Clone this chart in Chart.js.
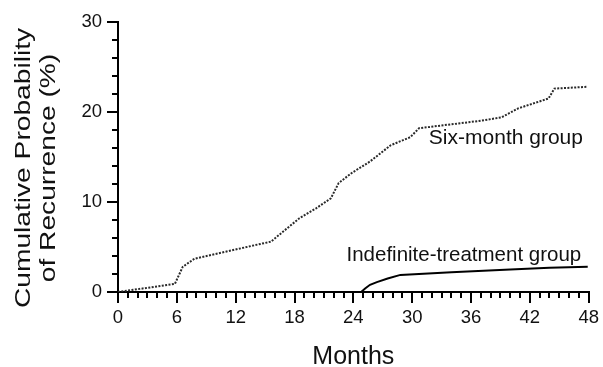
<!DOCTYPE html>
<html>
<head>
<meta charset="utf-8">
<script src="https://cdn.jsdelivr.net/npm/chart.js@4"></script>
<style>
  html, body { margin: 0; padding: 0; background: #fff; }
  #wrap { width: 603px; height: 367px; }
</style>
</head>
<body>
<div id="wrap"><canvas id="recurrenceChart" width="603" height="367"></canvas></div>
<script>
// cumulative recurrence curves (months, %)
const sixMonthMonths = [0, 5.8, 6.6, 7.8, 11.5, 15.6, 18.5, 20.2, 21.7, 22.5, 23.8, 25.7, 27.8, 29.8, 30.7, 36.8, 39.1, 40.8, 43.9, 44.5, 47.9];
const sixMonthPct    = [0, 0.9, 2.8, 3.7, 4.6, 5.6, 8.2, 9.3, 10.4, 12.1, 13.2, 14.5, 16.3, 17.2, 18.2, 19.0, 19.4, 20.4, 21.5, 22.6, 22.8];
const indefMonths = [24.8, 25.2, 25.7, 26.4, 27.5, 28.8, 34.0, 40.0, 44.0, 47.9];
const indefPct    = [0, 0.4, 0.8, 1.1, 1.5, 1.9, 2.2, 2.5, 2.7, 2.8];

const xTicks = [0, 6, 12, 18, 24, 30, 36, 42, 48];
const yTicks = [0, 10, 20, 30];
const seriesLabels = ['Six-month group', 'Indefinite-treatment group'];
const xTitle = 'Months';
const yTitle = ['Cumulative Probability', 'of Recurrence (%)'];

const FONT = '"Liberation Sans", Arial, sans-serif';

function toPoints(xs, ys) {
    return xs.map((x, i) => ({ x: x, y: ys[i] }));
}

// minor ticks, curve labels and the two-line y title
const extras = {
    id: 'extras',
    afterDraw(chart) {
        const ctx = chart.ctx;
        const xs = chart.scales.x;
        const ys = chart.scales.y;
        ctx.save();
        ctx.strokeStyle = '#000';
        ctx.lineWidth = 2;
        ctx.beginPath();
        for (let m = 1; m < 48; m++) {
            if (m % 6 === 0) continue;
            const px = Math.round(xs.getPixelForValue(m));
            ctx.moveTo(px, ys.bottom);
            ctx.lineTo(px, ys.bottom + 6);
        }
        for (let v = 2; v < 30; v += 2) {
            if (v % 10 === 0) continue;
            const py = Math.round(ys.getPixelForValue(v));
            ctx.moveTo(xs.left, py);
            ctx.lineTo(xs.left - 6, py);
        }
        ctx.stroke();

        ctx.fillStyle = '#111';
        ctx.textBaseline = 'middle';
        ctx.textAlign = 'left';
        ctx.font = '21px ' + FONT;
        ctx.fillText(seriesLabels[0], xs.getPixelForValue(31.7), ys.getPixelForValue(17.1));
        ctx.font = '20.5px ' + FONT;
        ctx.fillText(seriesLabels[1], xs.getPixelForValue(23.3), ys.getPixelForValue(4.1));

        // the printed y title is set wide, so stretch it along the text
        ctx.font = '22px ' + FONT;
        ctx.textAlign = 'center';
        ctx.translate(24, (ys.top + ys.bottom) / 2 + 11);
        ctx.rotate(-Math.PI / 2);
        ctx.scale(1.28, 1);
        ctx.fillText(yTitle[0], 0, 0);
        ctx.fillText(yTitle[1], 0, 25);
        ctx.restore();
    }
};

const gridOpts = {
    display: true,
    drawOnChartArea: false,
    drawTicks: true,
    tickLength: 11,
    tickWidth: 2,
    tickColor: '#000',
    lineWidth: 2
};

new Chart(document.getElementById('recurrenceChart'), {
    type: 'line',
    data: {
        datasets: [
            {
                label: seriesLabels[0],
                data: toPoints(sixMonthMonths, sixMonthPct),
                borderColor: '#2a2a2a',
                borderWidth: 2,
                borderDash: [2, 1.4],
                pointRadius: 0,
                tension: 0,
                fill: false
            },
            {
                label: seriesLabels[1],
                data: toPoints(indefMonths, indefPct),
                borderColor: '#000',
                borderWidth: 2,
                pointRadius: 0,
                tension: 0,
                fill: false
            }
        ]
    },
    options: {
        responsive: false,
        animation: false,
        layout: { padding: { top: 22, right: 12, left: 0, bottom: 0 } },
        plugins: {
            legend: { display: false },
            tooltip: { enabled: false }
        },
        scales: {
            x: {
                type: 'linear',
                min: 0,
                max: 48,
                afterBuildTicks: s => { s.ticks = xTicks.map(v => ({ value: v })); },
                ticks: { color: '#111', font: { family: FONT, size: 18.5 }, padding: 4, maxRotation: 0, autoSkip: false },
                grid: gridOpts,
                border: { display: true, color: '#000', width: 2 },
                title: { display: true, text: xTitle, color: '#111', font: { family: FONT, size: 25, lineHeight: '20px' }, padding: 0 },
                afterFit: s => { s.height = 75; }
            },
            y: {
                min: 0,
                max: 30,
                afterBuildTicks: s => { s.ticks = yTicks.map(v => ({ value: v })); },
                ticks: { color: '#111', font: { family: FONT, size: 18.5 }, padding: 5 },
                grid: gridOpts,
                border: { display: true, color: '#000', width: 2 },
                title: { display: false },
                afterFit: s => { s.width = 118; }
            }
        }
    },
    plugins: [extras]
});
</script>
</body>
</html>
